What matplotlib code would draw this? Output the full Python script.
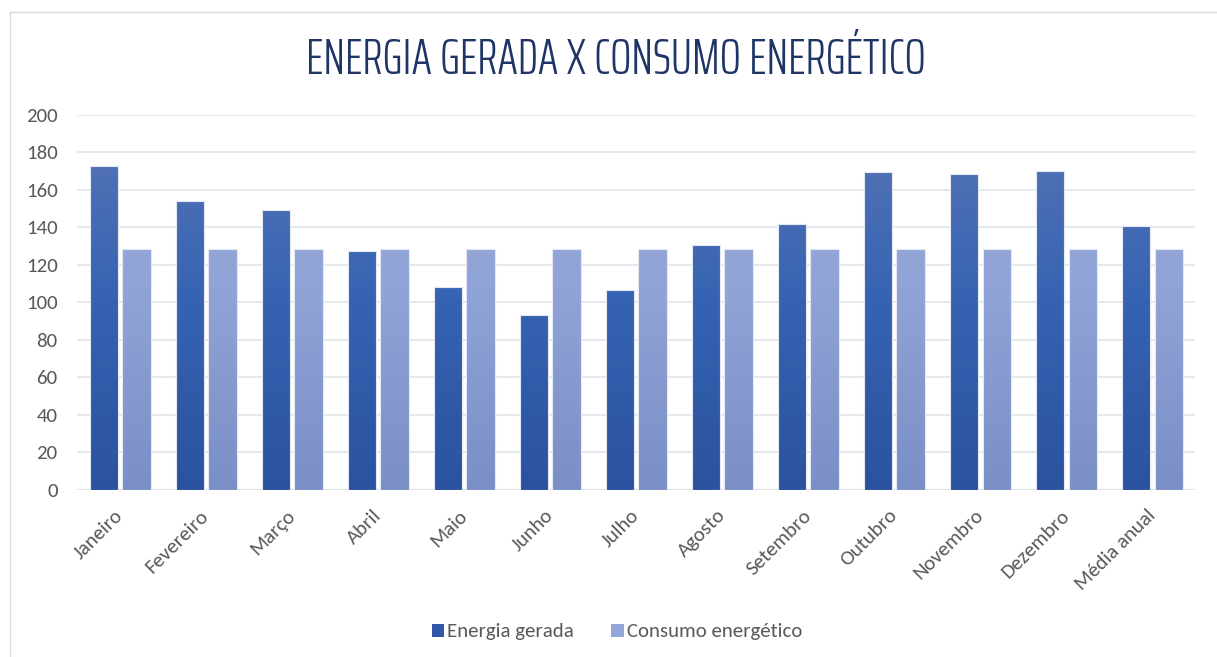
import numpy as np
import matplotlib.pyplot as plt
import matplotlib.transforms as mtransforms
from matplotlib.colors import LinearSegmentedColormap
from matplotlib.lines import Line2D
from matplotlib.patches import Patch

# dados
meses = ['Janeiro', 'Fevereiro', 'Março', 'Abril', 'Maio', 'Junho', 'Julho',
         'Agosto', 'Setembro', 'Outubro', 'Novembro', 'Dezembro', 'Média anual']
energia_gerada = [173, 154, 149.5, 127.6, 108.4, 93.5, 106.8,
                  130.5, 141.9, 169.4, 168.4, 170.3, 141.0]
consumo = [128.5] * 13

plt.rcParams['font.family'] = ['Carlito', 'DejaVu Sans']

fig = plt.figure(figsize=(12.17, 6.57), dpi=100)
ax = fig.add_axes([0.0633, 0.2542, 0.919, 0.5708])

# borda do grafico (caixa do excel)
fig.add_artist(Line2D([10/1217, 1], [1 - 12/657, 1 - 12/657], color='#D9D9D9', lw=1))
fig.add_artist(Line2D([10/1217, 10/1217], [0, 1 - 12/657], color='#D9D9D9', lw=1))

cmap_escuro = LinearSegmentedColormap.from_list('esc', ['#2A529F', '#3563B2', '#5975B5'])
cmap_claro = LinearSegmentedColormap.from_list('cla', ['#7A8FC6', '#8FA2D6', '#9CADD9'])
grad = np.linspace(0, 1, 256).reshape(-1, 1)

x = np.arange(len(meses))
w = 0.33
offs = 0.19

def barras_gradiente(xpos, vals, cmap):
    bars = ax.bar(xpos, vals, w, color='none', edgecolor='#E4E9F5', linewidth=0.8, zorder=3)
    for b in bars:
        x0 = b.get_x()
        im = ax.imshow(grad, cmap=cmap, origin='lower', aspect='auto',
                       extent=[x0, x0 + b.get_width(), 0, 200], zorder=2)
        im.set_clip_path(b)
    return bars

barras_gradiente(x - offs, energia_gerada, cmap_escuro)
barras_gradiente(x + offs, consumo, cmap_claro)

ax.set_xlim(-0.5, len(meses) - 0.5)
ax.set_ylim(0, 200)
ax.set_yticks(range(0, 201, 20))
ax.grid(axis='y', color='#E6E8EC', lw=1.5, zorder=0)
ax.set_axisbelow(True)
for s in ax.spines.values():
    s.set_visible(False)
ax.axhline(0, color='#E0E2E6', lw=1.5, zorder=1)
ax.tick_params(axis='both', length=0, colors='#595959', labelsize=15)
ax.tick_params(axis='y', pad=14)
ax.set_xticks(x)
ax.set_xticklabels(meses, rotation=45, ha='right', rotation_mode='anchor')
ax.tick_params(axis='x', pad=12)
# puxa os rotulos um pouco para a esquerda, como no excel
desloc = mtransforms.ScaledTranslation(-6/100, 0, fig.dpi_scale_trans)
for lab in ax.get_xticklabels():
    lab.set_transform(lab.get_transform() + desloc)

fig.text(0.506, 1 - 61/657, 'ENERGIA GERADA X CONSUMO ENERGÉTICO',
         ha='center', va='center', fontsize=36, color='#1F3566', weight=300,
         family=['Saira ExtraCondensed', 'DejaVu Sans'])

handles = [Patch(facecolor='#3158A6', edgecolor='none'),
           Patch(facecolor='#93A6D8', edgecolor='none')]
fig.legend(handles, ['Energia gerada', 'Consumo energético'], loc='center',
           bbox_to_anchor=(0.507, 1 - 632/657), ncol=2, frameon=False,
           fontsize=15, labelcolor='#595959', handlelength=0.6, handleheight=0.6,
           handletextpad=0.15, columnspacing=1.8)

fig.savefig('out.png', dpi=100, facecolor='white')
